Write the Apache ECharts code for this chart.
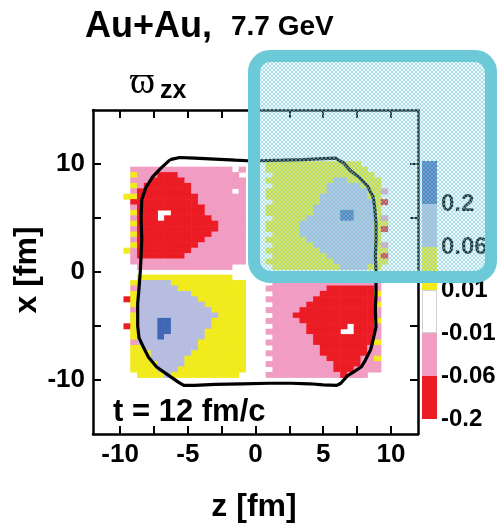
<!DOCTYPE html>
<html>
<head>
<meta charset="utf-8">
<script src="https://cdn.jsdelivr.net/npm/echarts@6/dist/echarts.min.js"></script>
<style>
  html, body { margin: 0; padding: 0; background: #ffffff; }
  #chart { width: 503px; height: 525px; }
</style>
</head>
<body>
<div id="chart"></div>
<script>
// Vorticity component ω_zx in the reaction plane, Au+Au at 7.7 GeV, t = 12 fm/c.

// axis ticks and labels
const zTicks = [-10, -7.5, -5, -2.5, 0, 2.5, 5, 7.5, 10];
const zLabels = [-10, -5, 0, 5, 10];
const xTicks = [-10, -5, 0, 5, 10];
const xLabels = [-10, 0, 10];

// contour levels (colour bar, bottom to top)
const levelLabels = ['-0.2', '-0.06', '-0.01', '0.01', '0.06', '0.2'];
const levelColors = ['#ec1c24', '#f19cc2', '#ffffff', '#f1ea1d', '#b7bde0', '#4067b5'];

// cell codes -> representative ω_zx value of the level band
const levelCode = { r: -0.1, p: -0.03, y: 0.03, l: 0.1, b: 0.3 };

// field on a 0.5 fm mesh: columns z = -10 .. 10, rows x = 10 .. -10
// run-length rows: <count><code>, '.' = |ω| < 0.01 / empty
const cellStep = 0.5;
const zFirst = -10;
const xFirst = 10;
const fieldRows = [
  '22.14y5.',
  '2.15p1.1p3.15y4.',
  '2.1y3p3r9p5.15y3.',
  '2.3p5r9p3.10y2l5y2.',
  '2.1y1p7r8p4.8y5l3y2.',
  '2.1p8r6p1.1p3.9y6l2y1p1.',
  '1.2y9r7p3.8y7l2y2.',
  '2.10r7p4.7y8l1y1r1.',
  '2.1p10r6p3.7y9l1y2.',
  '2.1y3r2.5r6p3.7y4l2b3l1y2.',
  '2.1p3r1.7r5p4.5y5l2b3l1y1p1.',
  '2.1y12r4p3.5y11l2y1.',
  '2.1p12r4p3.5y11l1y1r1.',
  '2.1y11r5p4.4y11l1y2.',
  '2.1p10r6p3.6y10l1y2.',
  '2.1y9r7p4.6y9l1y1p1.',
  '1.1y1p8r8p3.8y8l2y1.',
  '2.1p7r9p4.8y7l1y1r1.',
  '2.17p3.10y6l2y1.',
  '3.14p6.10y4l2y2.',
  '41.',
  '3.14y5.16p3.',
  '2.1y5l11y4.16p2.',
  '2.1p6l10y3.9p7r1p2.',
  '2.1y8l8y4.7p8r1y2.',
  '1.1r1y9l7y3.7p9r1p2.',
  '2.1y10l6y4.5p10r1y2.',
  '2.1p11l5y3.5p11r1p2.',
  '2.1y12l4y4.3p12r1p2.',
  '2.1y3l2b6l5y3.5p11r1y2.',
  '1.1r1y3l2b6l5y4.5p6r1.3r1p2.',
  '2.1y3l2b5l6y3.6p5r2.3r1p2.',
  '2.1y3l1b6l6y4.6p9r1p2.',
  '2.1p9l7y3.7p9r1y2.',
  '2.2y8l7y4.7p7r2p2.',
  '2.3y6l8y3.8p7r2p2.',
  '2.3y5l9y4.8p5r2p1y2.',
  '2.4y4l9y3.10p4r3p2.',
  '2.4y3l10y4.9p3r4p2.',
  '3.4y1l10y4.11p1r3p4.',
  '41.'
];

// freeze-out boundary (black line), [z, x] in fm
const contour = [
  [-6.3, 10.4], [-5.6, 10.6], [-4.5, 10.55], [-3, 10.45], [-1.5, 10.35], [-0.6, 10.3],
  [0.4, 10.3], [2, 10.35], [3.5, 10.4], [5, 10.5], [5.9, 10.55], [6.5, 10.1], [7.0, 9.4],
  [7.7, 8.7], [8.3, 7.9], [8.7, 6.9], [8.8, 6.0], [8.9, 4.5], [8.9, 3.0], [8.85, 1.5],
  [8.9, 0], [8.9, -2], [8.85, -3.5], [8.9, -5.1], [8.7, -6.2], [8.5, -7.2], [8.1, -8.2],
  [7.8, -8.8], [7.2, -9.3], [6.8, -9.6], [6.3, -10.3], [6.0, -10.5], [5, -10.45],
  [4, -10.35], [2.6, -10.3], [1, -10.3], [-1, -10.35], [-3, -10.4], [-4.5, -10.5],
  [-5.3, -10.5], [-5.7, -10.2], [-6.5, -9.5], [-7.3, -8.8], [-7.9, -7.9], [-8.3, -6.9],
  [-8.6, -6.1], [-8.7, -5], [-8.7, -2.9], [-8.6, -1.5], [-8.5, 0.2], [-8.45, 1.5],
  [-8.4, 3.0], [-8.45, 5], [-8.4, 6.7], [-8.1, 7.8], [-7.6, 8.8], [-7.0, 9.6], [-6.3, 10.4]
];

const FONT = "'Liberation Sans', Arial, Helvetica, sans-serif";

// expand run-length rows into [z, x, value] cells
function buildCells() {
  const cells = [];
  fieldRows.forEach(function (row, r) {
    let c = 0;
    const re = /(\d+)([.a-z])/g;
    let m;
    while ((m = re.exec(row)) !== null) {
      const n = parseInt(m[1], 10);
      for (let k = 0; k < n; k++) {
        if (m[2] !== '.') {
          cells.push([zFirst + c * cellStep, xFirst - r * cellStep, levelCode[m[2]]]);
        }
        c++;
      }
    }
  });
  return cells;
}

// fine cross-hatch used for the highlighted panel
function hatchCanvas() {
  const cv = document.createElement('canvas');
  cv.width = 4; cv.height = 4;
  const g = cv.getContext('2d');
  g.fillStyle = 'rgba(120,200,215,0.55)';
  for (let i = 0; i < 4; i++) {
    g.fillRect(i, i, 1, 1);
    g.fillRect(3 - i, i, 1, 1);
  }
  return cv;
}

const chart = echarts.init(document.getElementById('chart'), null, { renderer: 'canvas' });
const half = cellStep / 2;

const axisLineStyle = { color: '#000', width: 2.5 };
const tickStyle = { color: '#000', width: 2 };
const labelStyle = { color: '#000', fontSize: 26, fontWeight: 'bold', fontFamily: FONT };

const colorbarSeries = levelColors.map(function (col, i) {
  return {
    type: 'bar',
    xAxisIndex: 2,
    yAxisIndex: 2,
    stack: 'bar',
    data: [1],
    barWidth: '100%',
    silent: true,
    itemStyle: { color: col, borderColor: i === 2 ? '#d0d0d0' : col, borderWidth: i === 2 ? 1 : 0 }
  };
});

const option = {
  animation: false,
  backgroundColor: '#ffffff',
  grid: [
    { left: 93, top: 110, width: 325, height: 324 },
    { left: 422, top: 161, width: 15, height: 258 }
  ],
  xAxis: [
    {
      type: 'value', gridIndex: 0, min: -12, max: 12, position: 'bottom',
      axisLine: { onZero: false, lineStyle: axisLineStyle },
      axisTick: { inside: true, length: 8, customValues: zTicks, lineStyle: tickStyle },
      axisLabel: Object.assign({ customValues: zLabels, margin: 8 }, labelStyle),
      splitLine: { show: false }
    },
    {
      type: 'value', gridIndex: 0, min: -12, max: 12, position: 'top',
      axisLine: { onZero: false, lineStyle: axisLineStyle },
      axisTick: { inside: true, length: 8, customValues: zTicks, lineStyle: tickStyle },
      axisLabel: { show: false },
      splitLine: { show: false }
    },
    { type: 'category', gridIndex: 1, data: [''], show: false }
  ],
  yAxis: [
    {
      type: 'value', gridIndex: 0, min: -15, max: 15, interval: 5, position: 'left',
      axisLine: { onZero: false, lineStyle: axisLineStyle },
      axisTick: { inside: true, length: 8, customValues: xTicks, lineStyle: tickStyle },
      axisLabel: Object.assign({ customValues: xLabels, margin: 8 }, labelStyle),
      splitLine: { show: false }
    },
    {
      type: 'value', gridIndex: 0, min: -15, max: 15, interval: 5, position: 'right',
      axisLine: { onZero: false, lineStyle: axisLineStyle },
      axisTick: { inside: true, length: 8, customValues: xTicks, lineStyle: tickStyle },
      axisLabel: { show: false },
      splitLine: { show: false }
    },
    {
      type: 'value', gridIndex: 1, min: 0, max: 6, interval: 1, position: 'right',
      axisLine: { show: false }, axisTick: { show: false }, splitLine: { show: false },
      axisLabel: {
        margin: 4, color: '#000', fontSize: 24, fontWeight: 'bold', fontFamily: FONT,
        formatter: function (v) { return levelLabels[Math.round(v)] || ''; }
      }
    }
  ],
  visualMap: {
    type: 'piecewise', show: false, seriesIndex: 0, dimension: 2,
    pieces: [
      { lt: -0.06, color: levelColors[0] },
      { gte: -0.06, lt: -0.01, color: levelColors[1] },
      { gte: -0.01, lt: 0.01, color: levelColors[2] },
      { gte: 0.01, lt: 0.06, color: levelColors[3] },
      { gte: 0.06, lt: 0.2, color: levelColors[4] },
      { gte: 0.2, color: levelColors[5] }
    ]
  },
  series: [
    {
      type: 'custom',
      xAxisIndex: 0, yAxisIndex: 0,
      data: buildCells(),
      silent: true,
      renderItem: function (params, api) {
        const z = api.value(0), x = api.value(1);
        const p1 = api.coord([z - half, x + half]);
        const p2 = api.coord([z + half, x - half]);
        return {
          type: 'rect',
          shape: { x: p1[0], y: p1[1], width: p2[0] - p1[0] + 0.6, height: p2[1] - p1[1] + 0.6 },
          style: { fill: api.visual('color') }
        };
      }
    },
    {
      type: 'line',
      xAxisIndex: 0, yAxisIndex: 0,
      data: contour,
      showSymbol: false,
      silent: true,
      z: 5,
      lineStyle: { color: '#000', width: 3.2 }
    }
  ].concat(colorbarSeries),
  graphic: [
    {
      type: 'text', left: 85, top: 9,
      style: { text: 'Au+Au,', fontSize: 36, fontWeight: 'bold', fontFamily: FONT, fill: '#000' }
    },
    {
      type: 'text', left: 231, top: 13,
      style: { text: '7.7 GeV', fontSize: 28, fontWeight: 'bold', fontFamily: FONT, fill: '#000' }
    },
    {
      type: 'text', x: 130, y: 83,
      style: {
        text: '\u03D6', fontSize: 38, fontFamily: "'Liberation Serif', 'DejaVu Serif', serif",
        fill: '#000', align: 'left', verticalAlign: 'middle'
      }
    },
    {
      type: 'text', x: 160, y: 91,
      style: { text: 'zx', fontSize: 25, fontWeight: 'bold', fontFamily: FONT, fill: '#000', align: 'left', verticalAlign: 'middle' }
    },
    {
      type: 'text', x: 113, y: 412,
      style: { text: 't = 12 fm/c', fontSize: 31, fontWeight: 'bold', fontFamily: FONT, fill: '#000', align: 'left', verticalAlign: 'middle' }
    },
    {
      type: 'text', x: 254, y: 507,
      style: { text: 'z [fm]', fontSize: 32, fontWeight: 'bold', fontFamily: FONT, fill: '#000', align: 'center', verticalAlign: 'middle' }
    },
    {
      type: 'text', x: 27, y: 270, rotation: Math.PI / 2,
      style: { text: 'x [fm]', fontSize: 32, fontWeight: 'bold', fontFamily: FONT, fill: '#000', align: 'center', verticalAlign: 'middle' }
    },
    // highlighted panel: translucent hatch with a thick rounded frame
    {
      type: 'rect', z: 100, silent: true,
      shape: { x: 254, y: 56, width: 237, height: 221, r: 16 },
      style: { fill: 'rgba(175,228,235,0.22)' }
    },
    {
      type: 'rect', z: 101, silent: true,
      shape: { x: 254, y: 56, width: 237, height: 221, r: 16 },
      style: { fill: { image: hatchCanvas(), repeat: 'repeat' } }
    },
    {
      type: 'rect', z: 102, silent: true,
      shape: { x: 254, y: 56, width: 237, height: 221, r: 16 },
      style: { fill: 'none', stroke: '#6cc9d8', lineWidth: 12 }
    }
  ]
};

chart.setOption(option);
</script>
</body>
</html>
